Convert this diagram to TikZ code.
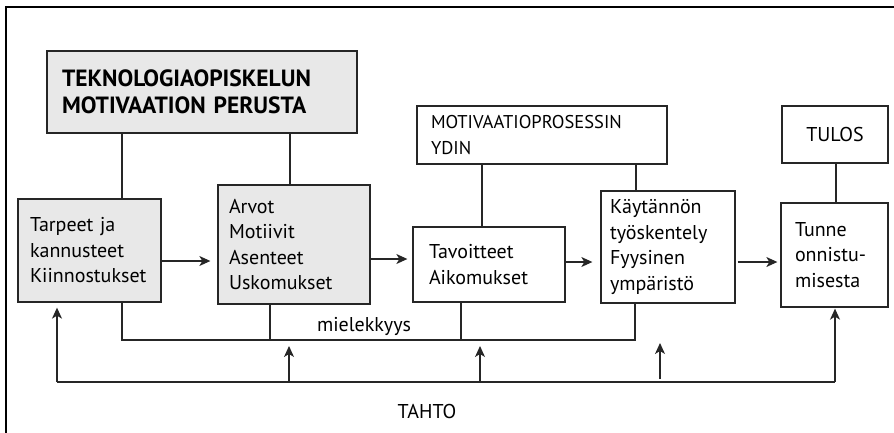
\documentclass[tikz,border=0pt]{standalone}
\usepackage{fontspec}
\setmainfont{PT Sans}
\usetikzlibrary{arrows.meta}
\definecolor{edge}{HTML}{262626}
\definecolor{boxfill}{HTML}{E8E8E8}
\newcommand\bodyfont{\fontsize{20}{25.5}\selectfont}
\begin{document}
\begin{tikzpicture}[x=1pt,y=-1pt,
  every node/.style={font=\bodyfont, text=black},
  box/.style={draw=edge, line width=1.3pt, align=left, inner ysep=0pt},
  shaded/.style={box, fill=boxfill},
  ln/.style={draw=edge, line width=1.2pt},
  arr/.style={ln, -{Stealth[length=11pt,width=10pt,inset=3pt]}}]
\useasboundingbox (0,0) rectangle (894,432);

% outer frame (only the left and top edges fall inside the page)
\draw[line width=1.6pt] (6,440) -- (6,7) -- (900,7);

% boxes
\node[shaded, minimum width=310pt, minimum height=82pt, inner xsep=15pt, text width=280pt,
      font=\fontsize{23.5}{27}\selectfont\bfseries] (title) at (202,92)
  {TEKNOLOGIAOPISKELUN\\MOTIVAATION PERUSTA};
\node[shaded, minimum width=143pt, minimum height=103pt, inner xsep=12pt, text width=119pt] (needs) at (89.5,250.5)
  {Tarpeet ja\\kannusteet\\Kiinnostukset};
\node[shaded, minimum width=152pt, minimum height=119pt, inner xsep=11pt, text width=130pt] (values) at (294,244.5)
  {Arvot\\Motiivit\\Asenteet\\Uskomukset};
\node[box, minimum width=152pt, minimum height=75pt, inner xsep=16pt, text width=120pt] (goals) at (489,264.5)
  {Tavoitteet\\Aikomukset};
\node[box, minimum width=134pt, minimum height=112pt, inner xsep=9pt, text width=116pt] (work) at (668,247)
  {Käytännön\\työskentely\\Fyysinen\\ympäristö};
\node[box, minimum width=107pt, minimum height=104pt, inner xsep=14pt, text width=79pt] (feel) at (834.5,255)
  {Tunne\\onnistu-\\misesta};
\node[box, minimum width=250pt, minimum height=58pt, inner xsep=14pt, text width=222pt,
      font=\fontsize{18.5}{26}\selectfont] (core) at (542,135)
  {MOTIVAATIOPROSESSIN\\YDIN};
\node[box, minimum width=106pt, minimum height=57pt, align=center] (result) at (835,134.5) {TULOS};

% vertical positions of the connectors
\coordinate (xa) at (122,0);
\coordinate (xb) at (290,0);
\coordinate (xc) at (482,0);
\coordinate (xd) at (636,0);
\coordinate (xe) at (836,0);
\coordinate (xv) at (270,0);
\coordinate (xg) at (461,0);
\coordinate (xw) at (635,0);
\coordinate (xt) at (57,0);
\coordinate (xf) at (835,0);
\coordinate (u1) at (289,0);
\coordinate (u2) at (480,0);
\coordinate (u3) at (660,0);
% horizontal rows
\coordinate (r1) at (0,261);
\coordinate (r2) at (0,259);
\coordinate (r3) at (0,262);
\coordinate (mbus) at (0,340);
\coordinate (tbus) at (0,382);

% headers to their boxes
\draw[ln] (xa |- title.south) -- (xa |- needs.north);
\draw[ln] (xb |- title.south) -- (xb |- values.north);
\draw[ln] (xc |- core.south) -- (xc |- goals.north);
\draw[ln] (xd |- core.south) -- (xd |- work.north);
\draw[ln] (xe |- result.south) -- (xe |- feel.north);

% main flow
\draw[arr, shorten <=-1pt, shorten >=7pt] (needs.east |- r1) -- (values.west |- r1);
\draw[arr, shorten >=5pt] (values.east |- r2) -- (goals.west |- r2);
\draw[arr, shorten >=8pt] (goals.east |- r3) -- (work.west |- r3);
\draw[arr, shorten <=2pt, shorten >=3pt] (work.east |- r3) -- (feel.west |- r3);

% meaningfulness bus
\draw[ln] (xa |- needs.south) -- (xa |- mbus) -- (xw |- mbus) -- (xw |- work.south);
\draw[ln] (xv |- values.south) -- ([yshift=-1pt]xv |- mbus);
\draw[ln] (xg |- goals.south) -- (xg |- mbus);
\node (meaning) at (364,326) {mielekkyys};

% will bus
\draw[arr, shorten >=5pt] (xt |- tbus) -- (xt |- needs.south);
\draw[ln] (xt |- tbus) -- (xf |- tbus);
\draw[arr, shorten >=1pt] (xf |- tbus) -- (xf |- feel.south);
\draw[arr, shorten >=6pt] (u1 |- tbus) -- (u1 |- mbus);
\draw[arr, shorten >=6pt] (u2 |- tbus) -- (u2 |- mbus);
\draw[arr, shorten <=3pt, shorten >=3pt] (u3 |- tbus) -- (u3 |- mbus);
\node (will) at (427,411) {TAHTO};
\end{tikzpicture}
\end{document}
